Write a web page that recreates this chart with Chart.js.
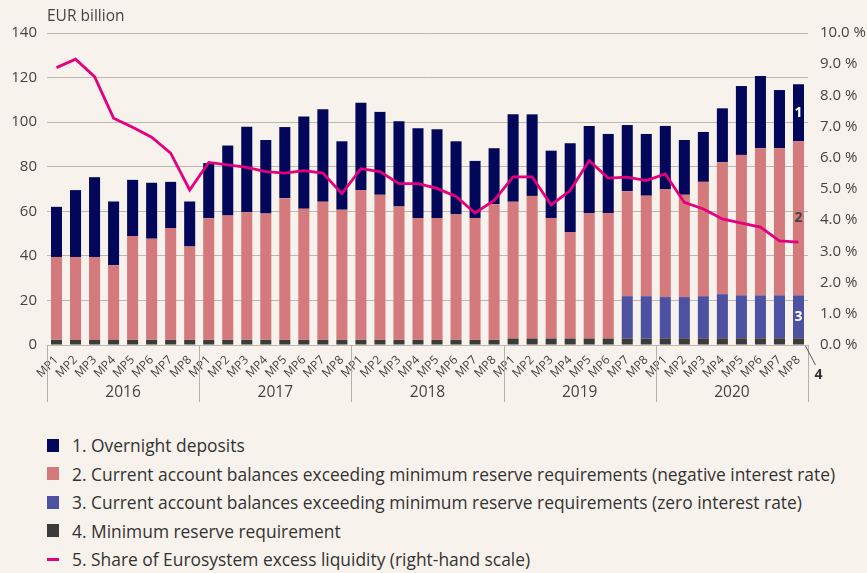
<!DOCTYPE html>
<html>
<head>
<meta charset="utf-8">
<script src="https://cdn.jsdelivr.net/npm/chart.js@4.4.0/dist/chart.umd.min.js"></script>
<style>
  body { margin: 0; background: #f8f2ec; font-family: 'Open Sans', sans-serif; }
  #wrap { position: relative; width: 867px; height: 420px; }
  #legend { position: absolute; left: 47px; top: 431px; }
  .item { height: 28.5px; display: flex; align-items: center; font-size: 17.4px; color: #333; }
  .box { width: 12px; height: 13px; margin-right: 13px; }
  .dash { width: 12px; height: 3px; margin-right: 13px; }
</style>
</head>
<body>
<div id="wrap"><canvas id="myChart"></canvas></div>
<div id="legend"></div>
<script>
const years = ['2016', '2017', '2018', '2019', '2020'];
const periods = ['MP1', 'MP2', 'MP3', 'MP4', 'MP5', 'MP6', 'MP7', 'MP8'];
const labels = [];
years.forEach((y) => periods.forEach((p) => labels.push(p)));

// EUR billion, stacked from bottom
const minReserve = [
  2.3, 2.3, 2.3, 2.3, 2.3, 2.3, 2.3, 2.3,
  2.3, 2.3, 2.3, 2.3, 2.3, 2.3, 2.3, 2.3,
  2.3, 2.3, 2.3, 2.3, 2.3, 2.3, 2.3, 2.3,
  2.9, 2.9, 2.9, 2.9, 2.9, 2.9, 2.9, 2.9,
  3.0, 3.0, 3.0, 3.0, 3.0, 3.0, 3.0, 3.0,
];
const zeroRate = [
  0, 0, 0, 0, 0, 0, 0, 0,
  0, 0, 0, 0, 0, 0, 0, 0,
  0, 0, 0, 0, 0, 0, 0, 0,
  0, 0, 0, 0, 0, 0, 19.0, 19.0,
  18.5, 18.5, 18.9, 19.8, 19.3, 19.3, 19.3, 19.3,
];
const negativeRate = [
  37.2, 37.2, 37.2, 33.5, 46.6, 45.4, 50.2, 41.9,
  54.6, 55.8, 57.3, 56.7, 63.6, 58.8, 62.0, 58.4,
  67.2, 65.1, 59.9, 54.7, 54.7, 56.3, 54.7, 60.9,
  61.4, 64.0, 54.1, 47.8, 56.3, 56.3, 47.1, 45.1,
  48.5, 45.9, 51.3, 59.2, 63.0, 66.0, 66.0, 69.1,
];
const overnight = [
  22.5, 30.0, 35.8, 28.6, 25.2, 25.1, 20.7, 20.2,
  24.7, 31.4, 38.3, 33.0, 31.9, 41.4, 41.5, 30.7,
  39.2, 37.2, 38.2, 40.3, 39.8, 32.8, 25.6, 25.1,
  39.2, 36.6, 30.2, 39.8, 39.1, 35.5, 29.7, 27.7,
  28.3, 24.6, 22.4, 24.2, 30.9, 32.4, 26.1, 25.6,
];
// % share, right-hand scale
const share = [
  8.89, 9.16, 8.6, 7.27, 6.98, 6.66, 6.15, 4.97,
  5.85, 5.77, 5.69, 5.56, 5.51, 5.59, 5.51, 4.85,
  5.65, 5.56, 5.17, 5.17, 5.02, 4.76, 4.23, 4.63,
  5.39, 5.39, 4.49, 4.95, 5.91, 5.35, 5.38, 5.27,
  5.48, 4.57, 4.36, 4.04, 3.91, 3.78, 3.34, 3.30,
];

const navy = '#020759',
  pink = '#d4797c',
  blue = '#4d51a2',
  dark = '#3b3b39',
  magenta = '#e6007e';

const legendItems = [
  { text: '1. Overnight deposits', color: navy },
  { text: '2. Current account balances exceeding minimum reserve requirements (negative interest rate)', color: pink },
  { text: '3. Current account balances exceeding minimum reserve requirements (zero interest rate)', color: blue },
  { text: '4. Minimum reserve requirement', color: dark },
  { text: '5. Share of Eurosystem excess liquidity (right-hand scale)', color: magenta, line: true },
];

//leyenda en HTML, una por fila
const legendDiv = document.getElementById('legend');
legendItems.forEach((it) => {
  const row = document.createElement('div');
  row.className = 'item';
  const mark = document.createElement('span');
  mark.className = it.line ? 'dash' : 'box';
  mark.style.background = it.color;
  const txt = document.createElement('span');
  txt.textContent = it.text;
  row.appendChild(mark);
  row.appendChild(txt);
  legendDiv.appendChild(row);
});

//años y separadores bajo el eje x, numeros de la ultima barra
const extrasPlugin = {
  id: 'extras',
  afterDraw(chart) {
    const ctx = chart.ctx;
    const x = chart.scales.x;
    const area = chart.chartArea;
    const step = x.getPixelForValue(1) - x.getPixelForValue(0);
    ctx.save();
    ctx.strokeStyle = '#b5b0aa';
    ctx.lineWidth = 1;
    for (let k = 0; k <= years.length; k++) {
      const px = Math.round(x.getPixelForValue(k * 8) - step / 2) + 0.5;
      ctx.beginPath();
      ctx.moveTo(px, area.bottom);
      ctx.lineTo(px, 402);
      ctx.stroke();
    }
    ctx.fillStyle = '#444';
    ctx.font = '15.5px "Open Sans"';
    ctx.textAlign = 'center';
    ctx.textBaseline = 'middle';
    years.forEach((yr, k) => {
      ctx.fillText(yr, x.getPixelForValue(k * 8 + 3.5), 393);
    });
    ctx.textAlign = 'left';
    ctx.fillText('EUR billion', 47, 17);

    // numbered labels on the last bar
    const last = labels.length - 1;
    const marks = [
      { ds: 3, text: '1', color: '#fff' },
      { ds: 2, text: '2', color: '#444' },
      { ds: 1, text: '3', color: '#fff' },
    ];
    ctx.font = 'bold 14px "Open Sans"';
    ctx.textAlign = 'center';
    marks.forEach((m) => {
      const el = chart.getDatasetMeta(m.ds).data[last];
      ctx.fillStyle = m.color;
      ctx.fillText(m.text, el.x, (el.y + el.base) / 2);
    });
    const el = chart.getDatasetMeta(0).data[last];
    ctx.strokeStyle = '#555';
    ctx.beginPath();
    ctx.moveTo(el.x + 7, area.bottom + 1);
    ctx.lineTo(el.x + 17, area.bottom + 20);
    ctx.stroke();
    ctx.fillStyle = '#333';
    ctx.fillText('4', el.x + 20, 375);
    ctx.restore();
  },
};

const barSet = (label, data, color) => ({
  type: 'bar',
  label: label,
  data: data,
  backgroundColor: color,
  yAxisID: 'y',
  stack: 'a',
  order: 1,
  categoryPercentage: 1,
  barPercentage: 0.58,
});

const ctx = document.getElementById('myChart');
// eslint-disable-next-line no-undef
const myChart = new Chart(ctx, {
  type: 'bar',
  data: {
    labels: labels,
    datasets: [
      barSet('4. Minimum reserve requirement', minReserve, dark),
      barSet('3. Zero interest rate', zeroRate, blue),
      barSet('2. Negative interest rate', negativeRate, pink),
      barSet('1. Overnight deposits', overnight, navy),
      {
        type: 'line',
        label: '5. Share of Eurosystem excess liquidity',
        data: share,
        borderColor: magenta,
        borderWidth: 2.8,
        pointRadius: 0,
        tension: 0,
        yAxisID: 'y1',
        order: 0,
      },
    ],
  },
  options: {
    responsive: true,
    maintainAspectRatio: false,
    animation: false,
    layout: { padding: { top: 33, left: 0, right: 0, bottom: 0 } },
    plugins: { legend: { display: false }, tooltip: { enabled: false } },
    scales: {
      x: {
        stacked: true,
        grid: { display: false },
        border: { display: false },
        ticks: {
          color: '#444',
          font: { family: 'Open Sans', size: 12 },
          minRotation: 45,
          maxRotation: 45,
          autoSkip: false,
          padding: 0,
        },
        afterFit(scale) {
          scale.height = 75;
        },
      },
      y: {
        stacked: true,
        position: 'left',
        min: 0,
        max: 140,
        grid: { color: '#bdb7b1', drawTicks: false },
        border: { display: false },
        ticks: {
          stepSize: 20,
          color: '#444',
          font: { family: 'Open Sans', size: 15 },
          padding: 10,
        },
        afterFit(scale) {
          scale.width = 47;
        },
      },
      y1: {
        position: 'right',
        min: 0,
        max: 10,
        grid: { display: false, drawTicks: false },
        border: { display: false },
        ticks: {
          stepSize: 1,
          color: '#444',
          font: { family: 'Open Sans', size: 15 },
          padding: 12,
          callback: (v) => v.toFixed(1) + ' %',
        },
        afterFit(scale) {
          scale.width = 59;
        },
      },
    },
  },
  plugins: [extrasPlugin],
});
</script>
</body>
</html>
